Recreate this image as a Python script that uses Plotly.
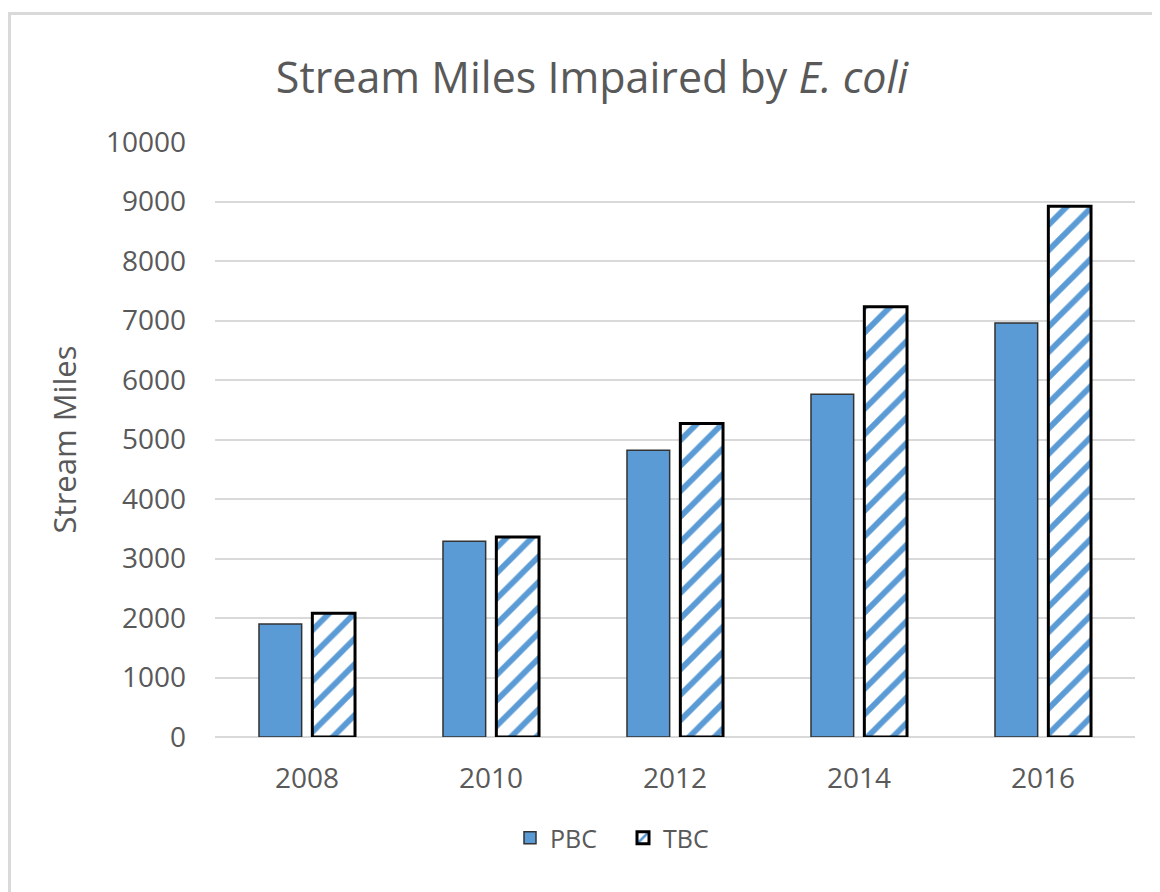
import plotly.graph_objects as go

years = ["2008", "2010", "2012", "2014", "2016"]
pbc = [1900, 3290, 4820, 5760, 6960]
tbc = [2080, 3360, 5270, 7230, 8920]
y_ticks = list(range(0, 10001, 1000))
y_tick_text = [str(v) for v in y_ticks]

BLUE = "#5B9BD5"
GRAY = "#595959"
FONT = "Open Sans"

fig = go.Figure()
fig.add_trace(go.Bar(
    name="PBC", x=years, y=pbc,
    marker=dict(color=BLUE, line=dict(color="#333333", width=1.5)),
))
fig.add_trace(go.Bar(
    name="TBC", x=years, y=tbc,
    marker=dict(color="white", line=dict(color="black", width=3),
                pattern=dict(shape="/", fgcolor=BLUE, bgcolor="white",
                             fgopacity=1, size=18, solidity=0.32)),
))

# page body has an 8px margin, so figure coords = reference coords - 8
W, H = 1152, 884
L, R, T, B = 207, 25, 134, 155
pw, ph = W - L - R, H - T - B

def px_x(x):
    return (x - 8 - L) / pw

def px_y(y):
    return (H - B - (y - 8)) / ph

fig.update_layout(
    width=W, height=H,
    margin=dict(l=L, r=R, t=T, b=B),
    paper_bgcolor="white", plot_bgcolor="white",
    font=dict(family=FONT, color=GRAY),
    title=dict(text="Stream Miles Impaired by <i>E. coli</i>",
               x=(592 - 8) / W, xanchor="center", xref="container",
               y=1 - (78 - 8) / H, yanchor="middle", yref="container",
               font=dict(size=43, color=GRAY, family=FONT)),
    barmode="group", bargap=0.42, bargroupgap=0.2,
    showlegend=True,
    legend=dict(orientation="h", x=px_x(510), xanchor="left",
                y=px_y(838), yanchor="middle",
                font=dict(size=25, color=GRAY), itemwidth=30,
                entrywidth=68, entrywidthmode="pixels",
                traceorder="normal"),
    xaxis=dict(tickfont=dict(size=28, color=GRAY), showline=False,
               ticks="", showgrid=False, ticklabelstandoff=22),
    yaxis=dict(range=[0, 10000], tickvals=y_ticks, ticktext=y_tick_text,
               tickfont=dict(size=28, color=GRAY),
               gridcolor="#D9D9D9", gridwidth=1.5,
               zeroline=True, zerolinecolor="#D9D9D9", zerolinewidth=1.5,
               ticks="", ticklen=0, showline=False, ticklabelstandoff=28,
               title=dict(text="Stream Miles", font=dict(size=31, color=GRAY), standoff=20)),
    shapes=[dict(type="rect", xref="paper", yref="paper",
                 x0=px_x(9.5), x1=px_x(1200), y0=px_y(920), y1=px_y(13.5),
                 line=dict(color="#D9D9D9", width=3), fillcolor="rgba(0,0,0,0)",
                 layer="below")],
)

fig.write_html("out.html")
